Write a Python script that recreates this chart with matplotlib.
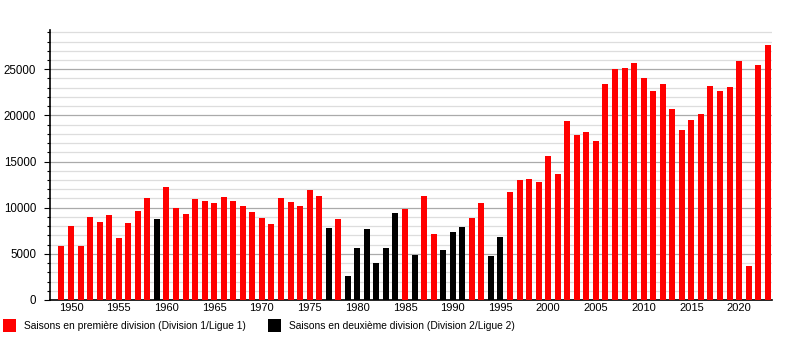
import numpy as np
import matplotlib
matplotlib.use('Agg')
import matplotlib.pyplot as plt
from matplotlib.patches import Patch
from matplotlib.ticker import MultipleLocator

# average attendance per season, 1949 -> 2023
years = list(range(1949, 2024))
attendance = [
    5800, 8000, 5900, 9000, 8450, 9200, 6750, 8350, 9650, 11050,   # 1949-1958
    8770, 12240, 9960, 9310, 10940, 10720, 10500, 11150, 10720, 10180,  # 1959-1968
    9530, 8880, 8230, 11050, 10610, 10180, 11910, 11260, 7800, 8770,   # 1969-1978
    2600, 5630, 7690, 4010, 5630, 9420, 9850, 4870, 11260, 7150,       # 1979-1988
    5410, 7360, 7910, 8880, 10500, 4770, 6820, 11700, 13000, 13100,    # 1989-1998
    12780, 15600, 13650, 19390, 17870, 18190, 17220, 23390, 25020, 25130,  # 1999-2008
    25670, 24040, 22640, 23390, 20690, 18410, 19490, 20140, 23180, 22640,  # 2009-2018
    23070, 25880, 3680, 25450, 27620,                                  # 2019-2023
]
# seasons played in the second division
second_div = [1959, 1977, 1979, 1980, 1981, 1982, 1983, 1984, 1986,
              1989, 1990, 1991, 1994, 1995]

label_d1 = "Saisons en première division (Division 1/Ligue 1)"
label_d2 = "Saisons en deuxième division (Division 2/Ligue 2)"

plt.rcParams['font.family'] = ['Liberation Sans', 'DejaVu Sans']

fig = plt.figure(figsize=(8, 3.5), dpi=100)
ax = fig.add_axes([50 / 800, 50 / 350, 722 / 800, 270 / 350])

colors = ['black' if y in second_div else 'red' for y in years]
ax.bar(years, attendance, width=0.63, color=colors, zorder=3)

ax.set_xlim(1947.8, 2023.45)
ax.set_ylim(0, 29250)

ax.yaxis.set_major_locator(MultipleLocator(5000))
ax.yaxis.set_minor_locator(MultipleLocator(1000))
ax.xaxis.set_major_locator(MultipleLocator(5))
ax.grid(which='major', axis='y', color='#aaaaaa', linewidth=0.9, zorder=1)
ax.grid(which='minor', axis='y', color='#dddddd', linewidth=0.9, zorder=1)

for side in ['top', 'right']:
    ax.spines[side].set_visible(False)
for side in ['left', 'bottom']:
    ax.spines[side].set_color('black')
    ax.spines[side].set_linewidth(1.2)

ax.tick_params(axis='y', which='major', length=4, width=0.8, labelsize=8.3, pad=6)
ax.tick_params(axis='y', which='minor', length=2.5, width=0.8)
ax.tick_params(axis='x', length=0, labelsize=8, pad=2)

handles = [Patch(facecolor='red', edgecolor='none'),
           Patch(facecolor='black', edgecolor='none')]
fig.legend(handles, [label_d1, label_d2], loc='upper left', ncol=2,
           bbox_to_anchor=(-0.002, 0.1), frameon=False, fontsize=7.4,
           handlelength=1.3, handleheight=1.5, handletextpad=0.8,
           columnspacing=2.1, borderaxespad=0)

fig.savefig('out.png', dpi=100)
